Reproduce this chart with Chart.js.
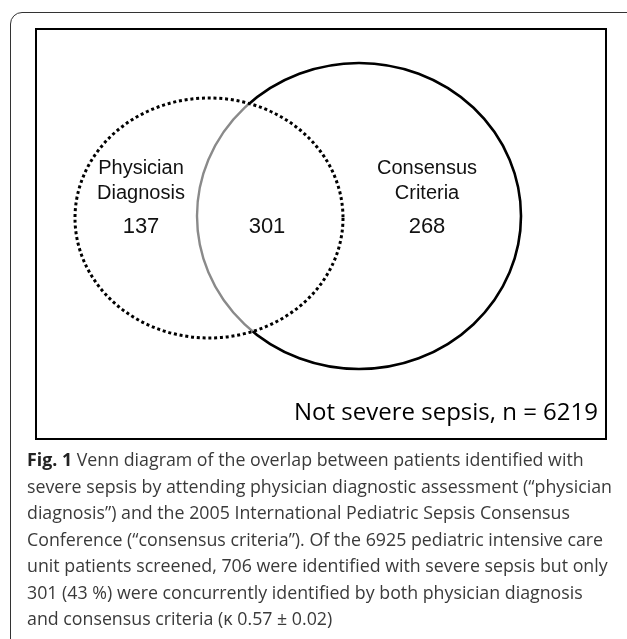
<!DOCTYPE html>
<html>
<head>
<meta charset="utf-8">
<script src="https://cdn.jsdelivr.net/npm/chart.js@4/dist/chart.umd.min.js"></script>
<style>
    body { margin: 0; background: #fff; width: 627px; height: 639px; overflow: hidden; position: relative; }
    #frame { position: absolute; left: 10px; top: 12px; width: 640px; height: 660px;
             border: 1.5px solid #333; border-radius: 12px; }
    #box { position: absolute; left: 35px; top: 28px; width: 568px; height: 408px; border: 2px solid #000; }
    #venn { position: absolute; left: 0; top: 0; }
    #caption { position: absolute; left: 27px; top: 446px; font: 17.8px "Open Sans", sans-serif;
               line-height: 26.5px; color: #3a3a3a; white-space: nowrap; }
    #caption b { color: #222; }
</style>
</head>
<body>
<div id="frame"></div>
<div id="box"></div>
<canvas id="venn" width="627" height="639"></canvas>
<div id="caption">
<b>Fig. 1</b> Venn diagram of the overlap between patients identified with<br>
severe sepsis by attending physician diagnostic assessment (“physician<br>
diagnosis”) and the 2005 International Pediatric Sepsis Consensus<br>
Conference (“consensus criteria”). Of the 6925 pediatric intensive care<br>
unit patients screened, 706 were identified with severe sepsis but only<br>
301 (43 %) were concurrently identified by both physician diagnosis<br>
and consensus criteria (κ 0.57 ± 0.02)
</div>
<script>
/* ---------- Données ---------- */
const setNames = [["Physician", "Diagnosis"], ["Consensus", "Criteria"]];
const regionCounts = [137, 301, 268];          // physician seul, les deux, consensus seul
const outsideLabel = "Not severe sepsis, n = ";
const outsideCount = 6219;

/* ---------- Mise en page (unités = px de la page) ---------- */
const layout = {
    physician: { cx: 209, cy: 218, rx: 134, ry: 120 },
    consensus: { cx: 359, cy: 216, rx: 162, ry: 153 },
    nameY: [168, 193],
    countY: 227,
    countX: [141, 267, 427],
    outsideX: 598,
    outsideY: 413
};

/* ---------- Plugin Venn ---------- */
const vennPlugin = {
    id: "venn",
    afterDatasetsDraw(chart) {
        const { ctx, scales: { x, y } } = chart;
        const toPx = c => ({
            x: x.getPixelForValue(c.cx),
            y: y.getPixelForValue(c.cy),
            rx: Math.abs(x.getPixelForValue(c.cx + c.rx) - x.getPixelForValue(c.cx)),
            ry: Math.abs(y.getPixelForValue(c.cy + c.ry) - y.getPixelForValue(c.cy))
        });
        const p = toPx(layout.physician);
        const c = toPx(layout.consensus);
        const ellipse = e => ctx.ellipse(e.x, e.y, e.rx, e.ry, 0, 0, Math.PI * 2);

        ctx.save();
        // cercle consensus : noir hors du cercle médecin
        ctx.save();
        ctx.beginPath();
        ctx.rect(0, 0, chart.width, chart.height);
        ellipse(p);
        ctx.clip("evenodd");
        ctx.beginPath();
        ellipse(c);
        ctx.strokeStyle = "#000";
        ctx.lineWidth = 2.6;
        ctx.stroke();
        ctx.restore();

        // partie grise à l'intérieur
        ctx.save();
        ctx.beginPath();
        ellipse(p);
        ctx.clip();
        ctx.beginPath();
        ellipse(c);
        ctx.strokeStyle = "#8a8a8a";
        ctx.lineWidth = 2.4;
        ctx.stroke();
        ctx.restore();

        // cercle médecin en pointillés
        ctx.beginPath();
        ellipse(p);
        ctx.setLineDash([3, 2.8]);
        ctx.strokeStyle = "#000";
        ctx.lineWidth = 3;
        ctx.stroke();
        ctx.setLineDash([]);

        // textes
        ctx.fillStyle = "#111";
        ctx.textAlign = "center";
        ctx.textBaseline = "middle";
        ctx.font = '20px "Liberation Sans", Arial, sans-serif';
        [0, 2].forEach((k, i) => {
            setNames[i].forEach((line, j) => {
                ctx.fillText(line, x.getPixelForValue(layout.countX[k]), y.getPixelForValue(layout.nameY[j]));
            });
        });
        ctx.font = '22px "Liberation Sans", Arial, sans-serif';
        regionCounts.forEach((v, k) => {
            ctx.fillText(String(v), x.getPixelForValue(layout.countX[k]), y.getPixelForValue(layout.countY));
        });

        ctx.font = '24px "Open Sans", sans-serif';
        ctx.textAlign = "right";
        ctx.fillStyle = "#000";
        ctx.fillText(outsideLabel + outsideCount, x.getPixelForValue(layout.outsideX), y.getPixelForValue(layout.outsideY));
        ctx.restore();
    }
};

new Chart(document.getElementById("venn"), {
    type: "scatter",
    data: { datasets: [{ data: [] }] },
    options: {
        responsive: false,
        animation: false,
        layout: { padding: 0 },
        plugins: { legend: { display: false }, tooltip: { enabled: false } },
        scales: {
            x: { type: "linear", min: 0, max: 627, display: false },
            y: { type: "linear", min: 0, max: 639, reverse: true, display: false }
        }
    },
    plugins: [vennPlugin]
});
</script>
</body>
</html>
